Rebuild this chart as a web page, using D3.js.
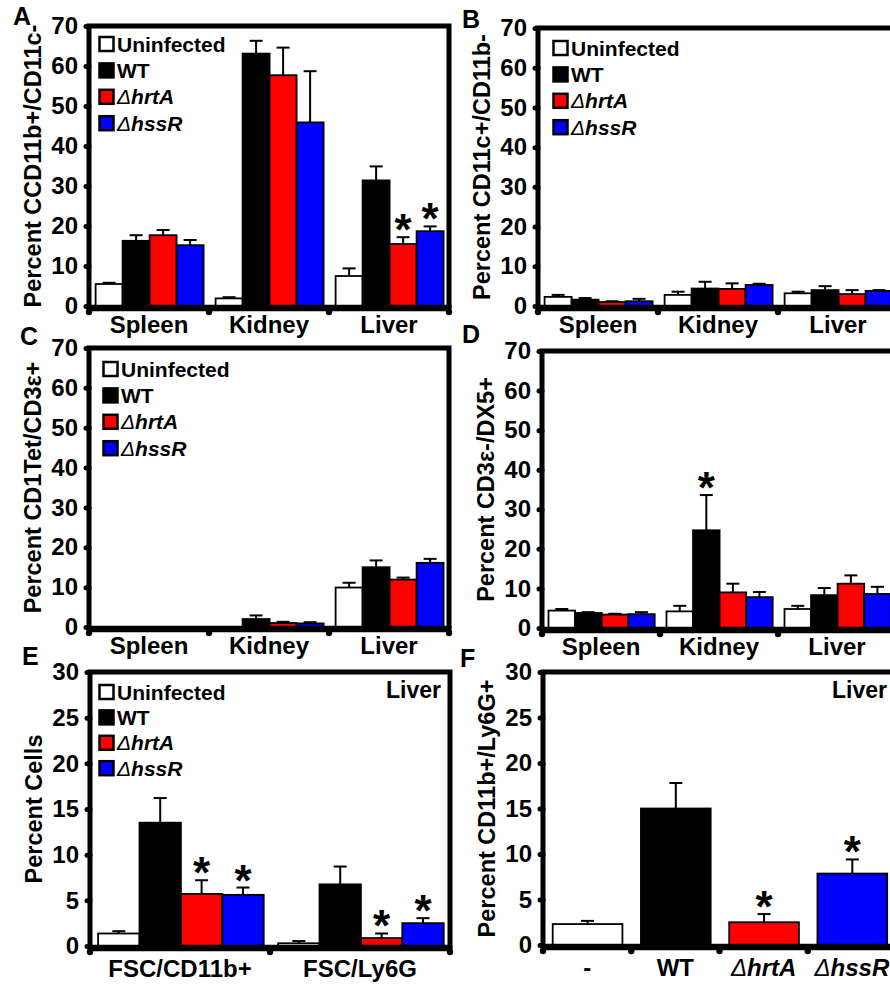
<!DOCTYPE html>
<html>
<head>
<meta charset="utf-8">
<script src="https://cdn.jsdelivr.net/npm/d3@7"></script>
<style>
body { margin: 0; background: #fff; }
text { font-family: "Liberation Sans", Arial, sans-serif; font-weight: bold; fill: #000; }
</style>
</head>
<body>
<svg id="chart" width="890" height="986"></svg>
<script>
var groups = ["Uninfected", "WT", "ΔhrtA", "ΔhssR"];
var groupColors = ["#ffffff", "#000000", "#ff0000", "#0000ff"];
var organs = ["Spleen", "Kidney", "Liver"];
var cellTypes = ["FSC/CD11b+", "FSC/Ly6G"];
var strainsF = ["-", "WT", "ΔhrtA", "ΔhssR"];
var ticks70 = [0, 10, 20, 30, 40, 50, 60, 70];
var ticks30 = [0, 5, 10, 15, 20, 25, 30];

// mean / SEM per category, in groups order
var meanA = [[5.5, 16.3, 17.7, 15.2], [1.9, 63.1, 57.7, 45.9], [7.5, 31.4, 15.5, 18.7]];
var semA  = [[0.3, 1.4, 1.3, 1.3], [0.3, 3.2, 6.9, 12.8], [1.9, 3.5, 1.7, 1.2]];
var starA = [[0, 0, 0, 0], [0, 0, 0, 0], [0, 0, 1, 1]];

var meanB = [[2.3, 1.6, 1.0, 1.2], [2.8, 4.4, 4.3, 5.3], [3.2, 4.0, 3.0, 3.8]];
var semB  = [[0.5, 0.4, 0.2, 0.6], [0.8, 1.7, 1.4, 0.3], [0.4, 1.0, 1.0, 0.2]];
var starB = [[0, 0, 0, 0], [0, 0, 0, 0], [0, 0, 0, 0]];

var meanC = [[0, 0, 0, 0], [0, 2.0, 1.0, 0.9], [9.9, 15.0, 11.9, 16.1]];
var semC  = [[0, 0, 0, 0], [0, 0.9, 0.3, 0.3], [1.2, 1.7, 0.5, 1.0]];
var starC = [[0, 0, 0, 0], [0, 0, 0, 0], [0, 0, 0, 0]];

var meanD = [[4.4, 3.8, 3.4, 3.5], [4.2, 24.7, 9.0, 7.8], [4.8, 8.3, 11.2, 8.6]];
var semD  = [[0.4, 0.2, 0.2, 0.5], [1.4, 8.9, 2.2, 1.3], [0.8, 1.8, 2.1, 1.8]];
var starD = [[0, 0, 0, 0], [0, 1, 0, 0], [0, 0, 0, 0]];

var meanE = [[1.37, 13.5, 5.7, 5.6], [0.3, 6.75, 0.87, 2.5]];
var semE  = [[0.25, 2.7, 1.5, 0.8], [0.25, 1.95, 0.5, 0.55]];
var starE = [[0, 0, 1, 1], [0, 0, 1, 1]];

var meanF = [[2.3], [15.0], [2.5], [7.85]];
var semF  = [[0.35], [2.8], [0.9], [1.55]];
var starF = [[0], [0], [1], [1]];

var panels = [
  {letter: "A", lx: 13, ly: 25, cats: organs, mean: meanA, sem: semA, star: starA, ticks: ticks70,
   yLabel: "Percent CCD11b+/CD11c-", left: 89, right: 449, top: 26, bottom: 306, inner: [0.055, 0.955],
   legend: [99, 44, 26.4], xPad: 10},
  {letter: "B", lx: 462, ly: 28, cats: organs, mean: meanB, sem: semB, star: starB, ticks: ticks70,
   yLabel: "Percent CD11c+/CD11b-", left: 538, right: 898, top: 28, bottom: 306, inner: [0.055, 0.955],
   legend: [553, 48, 26.4], xPad: 10},
  {letter: "C", lx: 20, ly: 345, cats: organs, mean: meanC, sem: semC, star: starC, ticks: ticks70,
   yLabel: "Percent CD1Tet/CD3ε+", left: 89, right: 449, top: 348, bottom: 627, inner: [0.055, 0.955],
   legend: [103, 369, 26.4], xPad: 10},
  {letter: "D", lx: 462, ly: 343, cats: organs, mean: meanD, sem: semD, star: starD, ticks: ticks70,
   yLabel: "Percent CD3ε-/DX5+", left: 542, right: 896, top: 351, bottom: 628, inner: [0.055, 0.955],
   legend: null, xPad: 10},
  {letter: "E", lx: 22, ly: 665, cats: cellTypes, mean: meanE, sem: semE, star: starE, ticks: ticks30,
   yLabel: "Percent Cells", left: 90, right: 450, top: 672, bottom: 946, inner: [0.045, 0.965],
   legend: [99, 692, 25.4], xPad: 14, corner: "Liver"},
  {letter: "F", lx: 460, ly: 667, cats: strainsF, mean: meanF, sem: semF, star: starF, ticks: ticks30,
   yLabel: "Percent CD11b+/Ly6G+", left: 543, right: 896, top: 672, bottom: 945, inner: [0.11, 0.9],
   legend: null, xPad: 14, corner: "Liver", colorByCat: true}
];

var svg = d3.select("#chart");
svg.append("rect").attr("width", 890).attr("height", 986).attr("fill", "#fff");

// Δ is drawn thin, the rest of a strain name bold italic
function writeName(t, s) {
  t.text(null);
  if (s.charAt(0) === "Δ") {
    t.append("tspan").style("font-style", "italic").style("font-weight", "normal").text("Δ");
    t.append("tspan").style("font-style", "italic").text(s.slice(1));
  } else {
    t.text(s);
  }
}

panels.forEach(function(p) {
  var g = svg.append("g");

  var x = d3.scaleBand().domain(p.cats).range([p.left, p.right]);
  var nb = p.mean[0].length;
  var xs = d3.scaleBand().domain(d3.range(nb))
             .range([x.bandwidth() * p.inner[0], x.bandwidth() * p.inner[1]]);
  var y = d3.scaleLinear().domain([0, d3.max(p.ticks)]).range([p.bottom, p.top]);

  var color = function(ci, bi) { return p.colorByCat ? groupColors[ci] : groupColors[bi]; };

  var bars = [];
  p.cats.forEach(function(c, ci) {
    p.mean[ci].forEach(function(v, bi) {
      bars.push({cat: c, ci: ci, bi: bi, v: v, e: p.sem[ci][bi], star: p.star[ci][bi]});
    });
  });
  bars = bars.filter(function(d) { return d.v > 0; });

  // error bars (upper only)
  var eb = g.append("g").selectAll("g").data(bars).enter().append("g")
            .attr("stroke", "#000").attr("stroke-width", 2);
  eb.append("line")
    .attr("x1", d => x(d.cat) + xs(d.bi) + xs.bandwidth() / 2)
    .attr("x2", d => x(d.cat) + xs(d.bi) + xs.bandwidth() / 2)
    .attr("y1", d => y(d.v))
    .attr("y2", d => y(d.v + d.e));
  eb.append("line")
    .attr("x1", d => x(d.cat) + xs(d.bi) + xs.bandwidth() / 2 - 6.5)
    .attr("x2", d => x(d.cat) + xs(d.bi) + xs.bandwidth() / 2 + 6.5)
    .attr("y1", d => y(d.v + d.e))
    .attr("y2", d => y(d.v + d.e));

  g.append("g").selectAll("rect").data(bars).enter().append("rect")
    .attr("x", d => x(d.cat) + xs(d.bi))
    .attr("width", xs.bandwidth())
    .attr("y", d => y(d.v))
    .attr("height", d => y(0) - y(d.v))
    .attr("fill", d => color(d.ci, d.bi))
    .attr("stroke", "#000")
    .attr("stroke-width", 1.8);

  g.append("g").selectAll("text").data(bars.filter(d => d.star)).enter().append("text")
    .attr("x", d => x(d.cat) + xs(d.bi) + xs.bandwidth() / 2)
    .attr("y", d => y(d.v + d.e) + 8)
    .attr("text-anchor", "middle")
    .style("font-size", "44px")
    .text("*");

  // frame
  g.append("path")
    .attr("d", "M" + p.left + "," + (p.bottom + 2) + "V" + p.top + "H" + p.right + "V" + (p.bottom + 2))
    .attr("fill", "none").attr("stroke", "#000").attr("stroke-width", 5);
  g.append("line")
    .attr("x1", p.left - 2.5).attr("x2", p.right + 2.5)
    .attr("y1", p.bottom + 2).attr("y2", p.bottom + 2)
    .attr("stroke", "#000").attr("stroke-width", 6.5);

  // category separators drawn as dots under the axis
  var seps = p.cats.map(c => x(c)).concat([p.right]);
  g.append("g").selectAll("circle").data(seps).enter().append("circle")
    .attr("cx", d => d).attr("cy", p.bottom + 6).attr("r", 3.2).attr("fill", "#000");

  var ya = g.append("g").attr("transform", "translate(" + p.left + ",0)")
            .call(d3.axisLeft(y).tickValues(p.ticks).tickSize(3).tickPadding(8));
  ya.select(".domain").remove();
  ya.selectAll(".tick line").attr("stroke-width", 5).attr("stroke-linecap", "round");
  ya.selectAll("text").style("font-size", "24px").attr("fill", "#000");
  ya.attr("font-family", null);

  var xa = g.append("g").attr("transform", "translate(0," + p.bottom + ")")
            .call(d3.axisBottom(x).tickSize(0).tickPadding(p.xPad));
  xa.select(".domain").remove();
  xa.attr("font-family", null);
  xa.selectAll("text").style("font-size", "24px").attr("fill", "#000")
    .each(function(d) { writeName(d3.select(this), d); });

  g.append("text")
    .attr("transform", "translate(" + (p.left - 48) + "," + ((p.top + p.bottom) / 2) + ") rotate(-90)")
    .attr("text-anchor", "middle")
    .style("font-size", "23.5px")
    .text(p.yLabel);

  g.append("text").attr("x", p.lx).attr("y", p.ly).style("font-size", "25px").text(p.letter);

  if (p.corner) {
    g.append("text").attr("x", p.right - 9).attr("y", p.top + 26)
      .attr("text-anchor", "end").style("font-size", "23px").text(p.corner);
  }

  if (p.legend) {
    var lg = g.append("g").selectAll("g").data(groups).enter().append("g")
              .attr("transform", (d, i) => "translate(" + p.legend[0] + "," + (p.legend[1] + i * p.legend[2]) + ")");
    lg.append("rect").attr("x", 0.5).attr("y", -7).attr("width", 14).attr("height", 14)
      .attr("fill", (d, i) => groupColors[i]).attr("stroke", "#000").attr("stroke-width", 2.5);
    lg.append("text").attr("x", 18).attr("y", 7.5).style("font-size", "21px")
      .each(function(d) { writeName(d3.select(this), d); });
  }
});
</script>
</body>
</html>
